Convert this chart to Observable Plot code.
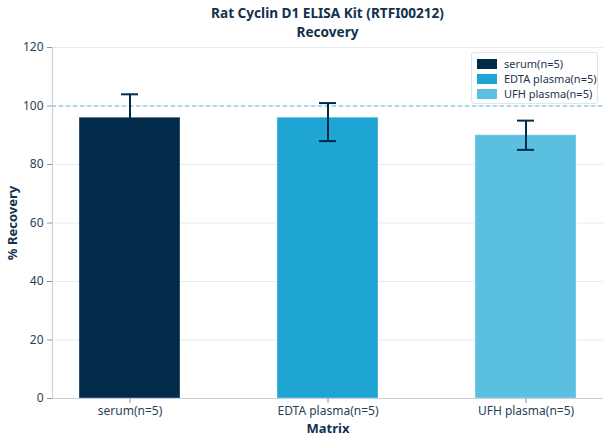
<!DOCTYPE html>
<html>
<head>
<meta charset="utf-8">
<script src="https://cdn.jsdelivr.net/npm/d3@7"></script>
<script src="https://cdn.jsdelivr.net/npm/@observablehq/plot@0.6"></script>
<style>
  html, body { margin: 0; padding: 0; background: #fff; }
  body { width: 608px; height: 444px; overflow: hidden; font-family: "Noto Sans", "Open Sans", sans-serif; }
  #wrap { position: relative; width: 608px; height: 444px; }
  .title { position: absolute; left: 52px; width: 551px; text-align: center; font-weight: bold; font-size: 13.6px; line-height: 14px; height: 14px; color: #13304d; white-space: nowrap; }
  #t1 { top: 6px; }
  #t2 { top: 25px; }
  #chart { position: absolute; left: 0; top: 30px; }
  #legend { position: absolute; left: 471px; top: 52px; width: 125px; padding: 3px 0 2px 0; border: 1px solid #dfe5ec; border-radius: 3px; background: #fff; font-size: 11px; color: #1e3550; }
  #legend .row { display: flex; align-items: center; height: 15px; padding-left: 5px; }
  #legend .sw { width: 20px; height: 10px; margin-right: 7px; }
  svg text { font-family: "Noto Sans", "Open Sans", sans-serif; }
  g[aria-label="y-axis label"] text, g[aria-label="x-axis label"] text { font-weight: bold; font-size: 13px; fill: #13304d; }
</style>
</head>
<body>
<div id="wrap">
  <div id="chart"></div>
  <div class="title" id="t1">Rat Cyclin D1 ELISA Kit (RTFI00212)</div>
  <div class="title" id="t2">Recovery</div>
  <div id="legend"></div>
</div>
<script>
const categories = ["serum(n=5)", "EDTA plasma(n=5)", "UFH plasma(n=5)"];
const recovery = [96, 96, 90];
const errLow = [88, 88, 85];
const errHigh = [104, 101, 95];
const colors = ["#022b4a", "#1fa5d3", "#5bbfdf"];
const yTicks = [0, 20, 40, 60, 80, 100, 120];
const refLine = [100];

const data = categories.map((c, i) => ({cat: c, v: recovery[i], lo: errLow[i], hi: errHigh[i]}));

const chart = Plot.plot({
  width: 608,
  height: 414,
  marginTop: 17,
  marginBottom: 46,
  marginLeft: 52,
  marginRight: 5,
  style: {fontSize: "12px", color: "#2a3f57", background: "transparent"},
  x: {domain: categories, paddingInner: 0.49, paddingOuter: 0.136, label: null},
  y: {domain: [0, 120], label: null},
  color: {domain: categories, range: colors},
  marks: [
    Plot.gridY(yTicks, {stroke: "#e6ebf1", strokeOpacity: 1, strokeWidth: 1.2}),
    Plot.barY(data, {x: "cat", y: "v", fill: "cat", stroke: "#ffffff", strokeOpacity: 0.35, strokeWidth: 1}),
    Plot.ruleY(refLine, {stroke: "#5bbfdf", strokeDasharray: "4,3", strokeWidth: 1}),
    Plot.ruleX(data, {x: "cat", y1: "lo", y2: "hi", stroke: "#022b4a", strokeWidth: 2}),
    Plot.tickY(data, {x: "cat", y: "lo", stroke: "#022b4a", strokeWidth: 2, insetLeft: 42, insetRight: 42}),
    Plot.tickY(data, {x: "cat", y: "hi", stroke: "#022b4a", strokeWidth: 2, insetLeft: 42, insetRight: 42}),
    Plot.ruleY([0], {stroke: "#c8d1da", strokeWidth: 1.2}),
    Plot.frame({anchor: "left", stroke: "#c8d1da", strokeWidth: 1.2}),
    Plot.axisY(yTicks, {tickSize: 5, tickPadding: 4, stroke: "#8a98a8", label: "% Recovery", labelAnchor: "center", labelOffset: 45, labelArrow: "none"}),
    Plot.axisX({tickSize: 5, tickPadding: 3, stroke: "#8a98a8", label: "Matrix", labelAnchor: "center", labelOffset: 34, labelArrow: "none"})
  ]
});
document.getElementById("chart").appendChild(chart);

const legend = document.getElementById("legend");
categories.forEach((c, i) => {
  const row = document.createElement("div");
  row.className = "row";
  const sw = document.createElement("span");
  sw.className = "sw";
  sw.style.background = colors[i];
  const t = document.createElement("span");
  t.textContent = c;
  row.appendChild(sw);
  row.appendChild(t);
  legend.appendChild(row);
});
</script>
</body>
</html>
